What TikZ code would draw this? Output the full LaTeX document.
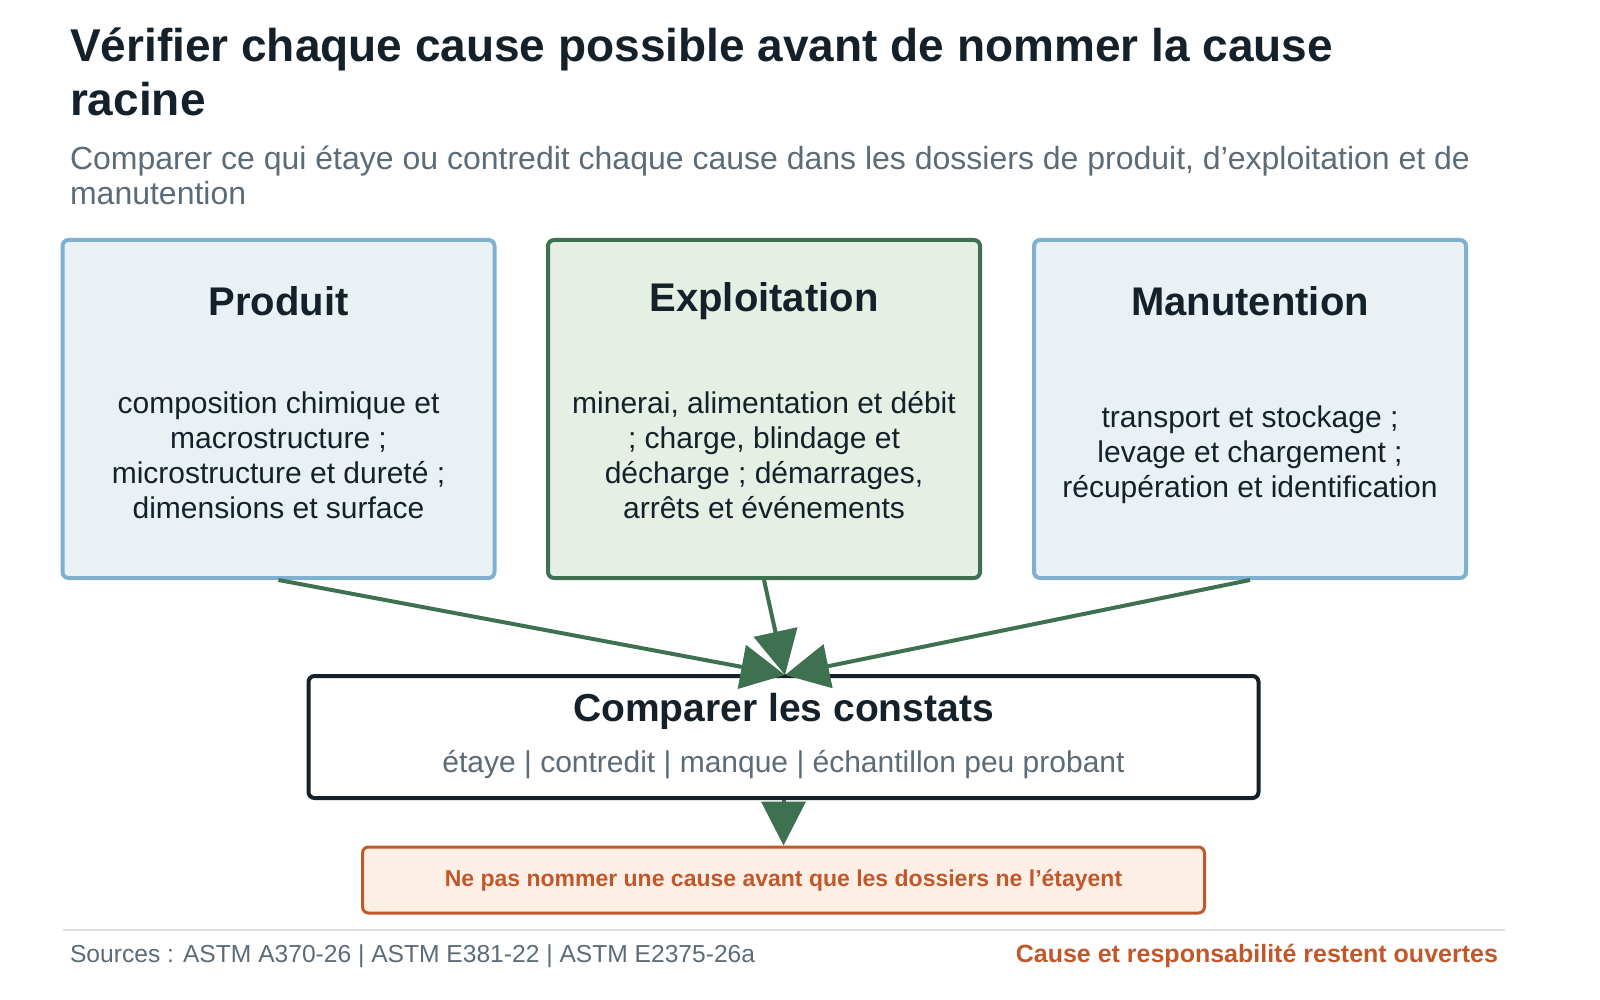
\documentclass[tikz,border=0pt]{standalone}
\usepackage{fontspec}
\setmainfont{Liberation Sans}
\usetikzlibrary{positioning,arrows.meta}
\definecolor{ink}{HTML}{14212B}
\definecolor{muted}{HTML}{5B6B78}
\definecolor{blueline}{HTML}{7FB0CF}
\definecolor{bluefill}{HTML}{EAF1F5}
\definecolor{greenline}{HTML}{3E7150}
\definecolor{greenfill}{HTML}{E6EFE3}
\definecolor{warn}{HTML}{C0582A}
\definecolor{warnfill}{HTML}{FDEFE6}
\begin{document}
\begin{tikzpicture}[x=0.5pt,y=-0.5pt]
    \tikzset{
      cause/.style={draw=blueline,fill=bluefill,line width=2pt,rounded corners=3pt,minimum width=216pt,minimum height=169pt},
      causehl/.style={cause,draw=greenline,fill=greenfill},
      head/.style={font=\fontsize{20}{24}\selectfont\bfseries,text=ink},
      body/.style={font=\fontsize{15}{17.5}\selectfont,text=ink,align=center},
      titletext/.style={anchor=base west,font=\fontsize{23}{27}\selectfont\bfseries,text=ink},
      subtext/.style={anchor=base west,font=\fontsize{16}{19}\selectfont,text=muted},
      flow/.style={draw=greenline,line width=2pt,-{Triangle[length=22pt,width=22pt]}}
    }
    \useasboundingbox (0,0) rectangle (1600,1000);
    \node[titletext] (title) at (63,62) {Vérifier chaque cause possible avant de nommer la cause};
    \node[titletext] (title2) at (63,116) {racine};
    \node[subtext] (subtitle) at (63,170) {Comparer ce qui étaye ou contredit chaque cause dans les dossiers de produit, d’exploitation et de};
    \node[subtext] (subtitle2) at (63,205) {manutention};
    \node[cause] (produit) at (278.5,409) {};
    \node[causehl] (exploit) at (764,409) {};
    \node[cause] (manut) at (1250,409) {};
    \node[head] at (278.5,301) {Produit};
    \node[head] at (764,301) {Exploitation};
    \node[head] at (1250,301) {Manutention};
    \node[body] at (278.5,455) {composition chimique et\\macrostructure ;\\microstructure et dureté ;\\dimensions et surface};
    \node[body] at (764,455) {minerai, alimentation et débit\\; charge, blindage et\\décharge ; démarrages,\\arrêts et événements};
    \node[body] at (1250,455) {transport et stockage ;\\levage et chargement ;\\récupération et identification};
    \node[draw=ink,line width=2pt,rounded corners=3pt,minimum width=475pt,minimum height=61pt,fill=white] (compare) at (783.5,737) {};
    \node[font=\fontsize{19.5}{23}\selectfont\bfseries,text=ink] at (783.5,711) {Comparer les constats};
    \node[font=\fontsize{15}{18}\selectfont,text=muted] at (783.5,765) {étaye | contredit | manque | échantillon peu probant};
    \node[draw=warn,fill=warnfill,line width=1.5pt,rounded corners=3pt,minimum width=421pt,minimum height=33pt,font=\fontsize{11.5}{13}\selectfont\bfseries,text=warn] (rule) at (783.5,880) {Ne pas nommer une cause avant que les dossiers ne l’étayent};
    \coordinate (merge) at (785,675);
    \draw[flow] (produit.south) -- (merge);
    \draw[flow] (exploit.south) -- (merge);
    \draw[flow] (manut.south) -- (merge);
    \draw[flow] (compare.south) -- (rule.north);
    \draw[draw=black!12,line width=1pt] (63,930) -- (1505,930);
    \node[anchor=base west,font=\fontsize{12.3}{14}\selectfont,text=muted] (sources) at (63,962) {Sources : ASTM A370-26 | ASTM E381-22 | ASTM E2375-26a};
    \node[anchor=base east,font=\fontsize{12.5}{14}\selectfont\bfseries,text=warn] (note) at (1505,962) {Cause et responsabilité restent ouvertes};
\end{tikzpicture}
\end{document}
